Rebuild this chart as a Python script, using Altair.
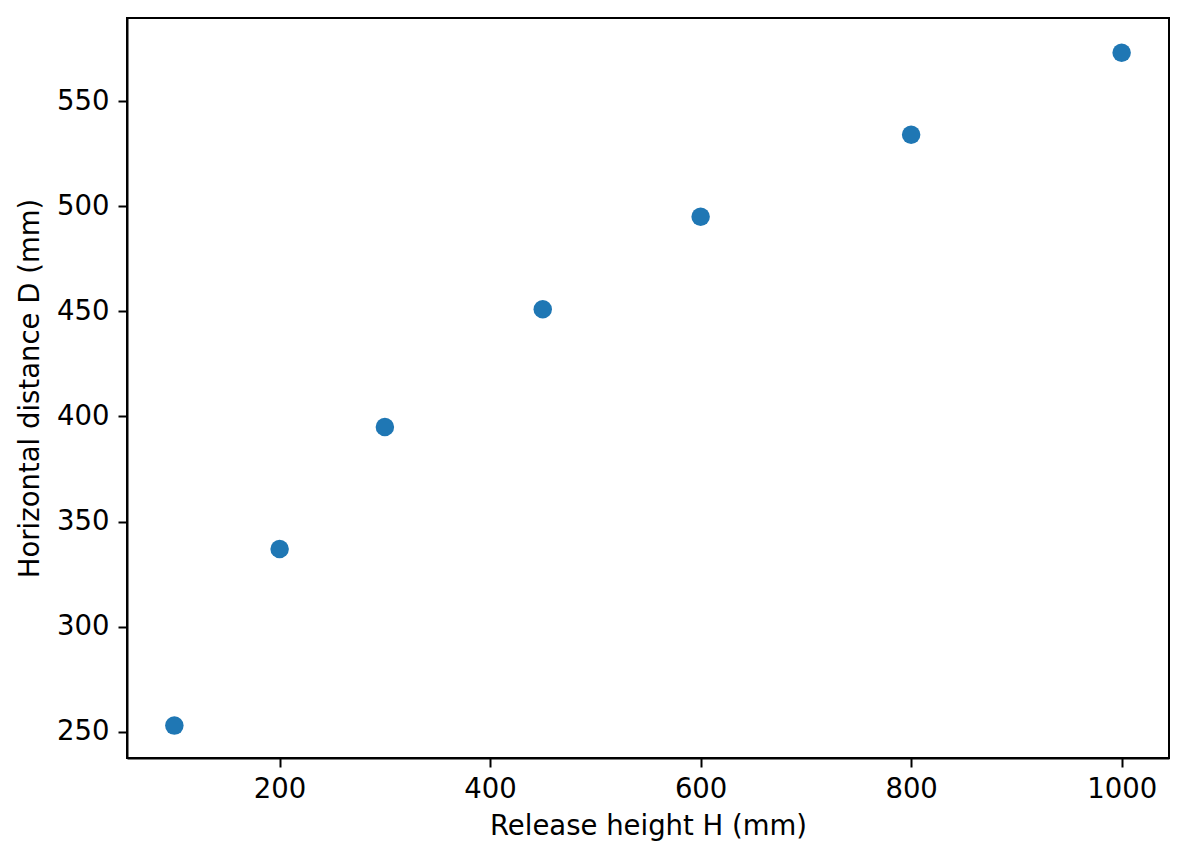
import altair as alt
import pandas as pd

heights = [100, 200, 300, 450, 600, 800, 1000]
distances = [253, 337, 395, 451, 495, 534, 573]
x_ticks = [200, 400, 600, 800, 1000]
y_ticks = [250, 300, 350, 400, 450, 500, 550]

df = pd.DataFrame({"H": heights, "D": distances})

FONT = "DejaVu Sans"
FS = 27.5

chart = alt.Chart(df).mark_circle(size=342, opacity=1, color="#1f77b4").encode(
    x=alt.X("H:Q", scale=alt.Scale(domain=[55, 1045], nice=False, zero=False),
            axis=alt.Axis(values=x_ticks, format="d", title="Release height H (mm)", grid=False,
                          tickSize=9, tickWidth=2, domainWidth=2, domainColor="black",
                          tickColor="black", labelColor="black", titleColor="black",
                          labelFont=FONT, titleFont=FONT, labelFontSize=FS, titleFontSize=FS,
                          titleFontWeight="normal", labelPadding=8, titlePadding=10,
                          labelFlush=False, labelOverlap=False)),
    y=alt.Y("D:Q", scale=alt.Scale(domain=[237.6, 589.5], nice=False, zero=False),
            axis=alt.Axis(values=y_ticks, format="d", title="Horizontal distance D (mm)", grid=False,
                          tickSize=9, tickWidth=2, domainWidth=2, domainColor="black",
                          tickColor="black", labelColor="black", titleColor="black",
                          labelFont=FONT, titleFont=FONT, labelFontSize=FS, titleFontSize=FS,
                          titleFontWeight="normal", labelPadding=9, titlePadding=12,
                          labelFlush=False, labelOverlap=False)),
).properties(
    width=1042, height=740,
    autosize=alt.AutoSizeParams(type="none"),
    padding={"left": 119, "top": 10, "right": 10, "bottom": 95},
).configure(background="white").configure_view(stroke="black", strokeWidth=2)

chart.save("out.html", embed_options={"renderer": "svg", "actions": False})
